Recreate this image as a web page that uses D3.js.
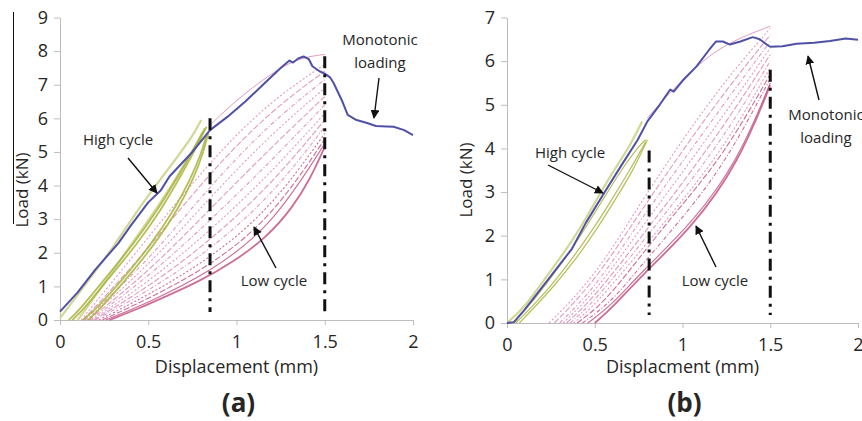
<!DOCTYPE html>
<html>
<head>
<meta charset="utf-8">
<script src="https://cdn.jsdelivr.net/npm/d3@7"></script>
<style>
  body { margin: 0; background: #fff; }
  svg text { font-family: "Open Sans", sans-serif; fill: #262626; }
</style>
</head>
<body>
<div id="chart"></div>
<script>
// ---- data ----
var xTicks   = [ 0, 0.5, 1, 1.5, 2 ];
var yTicksA  = [ 0, 1, 2, 3, 4, 5, 6, 7, 8, 9 ];
var yTicksB  = [ 0, 1, 2, 3, 4, 5, 6, 7 ];

// (a) monotonic loading curve [displacement mm, load kN]
var monoA = [
    [0,0.25],[0.1,0.82],[0.2,1.5],[0.33,2.28],[0.4,2.8],[0.5,3.5],[0.57,3.85],[0.62,4.27],
    [0.75,5.0],[0.85,5.65],[0.95,6.05],[1.05,6.5],[1.15,7.0],[1.25,7.5],[1.3,7.72],[1.32,7.66],
    [1.35,7.78],[1.38,7.84],[1.41,7.76],[1.43,7.55],[1.47,7.4],[1.5,7.33],[1.53,7.22],[1.55,7.05],
    [1.6,6.5],[1.63,6.1],[1.68,5.95],[1.74,5.86],[1.79,5.77],[1.85,5.76],[1.89,5.75],[1.95,5.65],[2.0,5.5]
];
// (a) high cycle loops
var highA_light = [
    [ [0.0,0.05],[0.1,0.75],[0.2,1.45],[0.3,2.15],[0.43,3.2],[0.55,4.05],[0.65,4.75],[0.75,5.45],[0.8,5.95] ],
    [ [0.1,0],[0.2,0.7],[0.35,1.85],[0.5,2.95],[0.62,3.9],[0.72,4.75],[0.81,5.6] ]
];
var highA = [
    [ [0.05,0],[0.11,0.3],[0.25,1.2],[0.42,2.28],[0.55,3.25],[0.66,4.2],[0.75,5.0],[0.82,5.7] ],
    [ [0.07,0],[0.13,0.3],[0.27,1.2],[0.44,2.28],[0.57,3.25],[0.68,4.25],[0.76,5.0],[0.83,5.75] ],
    [ [0.13,0],[0.21,0.35],[0.37,1.3],[0.52,2.28],[0.65,3.3],[0.74,4.2],[0.8,4.95],[0.83,5.5] ],
    [ [0.16,0],[0.23,0.35],[0.39,1.3],[0.54,2.28],[0.67,3.3],[0.76,4.25],[0.81,4.95],[0.84,5.55] ]
];
// (a) low cycle loops
var lowA_env = [ [0.85,5.8],[1.0,6.55],[1.2,7.35],[1.35,7.8],[1.5,7.9] ];
var lowA = [
    [ [0.12,0],[0.4,1.8],[0.85,4.75],[1.2,6.55],[1.5,7.6] ],
    [ [0.13,0],[0.45,1.8],[0.85,4.4],[1.2,6.25],[1.5,7.4] ],
    [ [0.14,0],[0.5,1.75],[0.85,4.0],[1.2,5.9],[1.5,7.15] ],
    [ [0.15,0],[0.5,1.6],[0.85,3.65],[1.2,5.55],[1.5,6.9] ],
    [ [0.16,0],[0.5,1.42],[0.85,3.3],[1.2,5.15],[1.5,6.65] ],
    [ [0.17,0],[0.5,1.28],[0.85,2.95],[1.2,4.75],[1.5,6.4] ],
    [ [0.18,0],[0.5,1.12],[0.85,2.65],[1.2,4.4],[1.5,6.15] ],
    [ [0.19,0],[0.5,0.98],[0.85,2.35],[1.2,4.05],[1.5,5.95] ],
    [ [0.2,0],[0.5,0.86],[0.85,2.08],[1.2,3.7],[1.5,5.75] ],
    [ [0.22,0],[0.5,0.74],[0.85,1.82],[1.2,3.35],[1.5,5.55] ],
    [ [0.24,0],[0.5,0.63],[0.85,1.6],[1.2,3.05],[1.5,5.38] ],
    [ [0.26,0],[0.5,0.52],[0.85,1.42],[1.2,2.78],[1.5,5.25] ],
    [ [0.28,0],[0.45,0.35],[0.6,0.7],[0.79,1.15],[0.98,1.72],[1.17,2.45],[1.32,3.36],[1.42,4.22],[1.5,5.15] ]
];

// (b) monotonic loading curve
var monoB = [
    [0,0],[0.04,0.02],[0.1,0.3],[0.235,1.0],[0.37,1.7],[0.45,2.3],[0.557,3.0],[0.65,3.6],[0.745,4.2],
    [0.8,4.62],[0.87,5.0],[0.93,5.35],[0.95,5.3],[1.0,5.55],[1.08,5.88],[1.15,6.25],[1.19,6.45],
    [1.23,6.45],[1.27,6.38],[1.33,6.45],[1.4,6.55],[1.44,6.5],[1.48,6.38],[1.5,6.33],[1.57,6.34],
    [1.65,6.4],[1.75,6.42],[1.84,6.46],[1.93,6.52],[2.0,6.49]
];
var highB_light = [
    [ [0,0],[0.1,0.35],[0.23,1.1],[0.37,1.85],[0.5,2.75],[0.6,3.45],[0.7,4.05],[0.77,4.62] ]
];
var highB = [
    [ [0.03,0],[0.15,0.5],[0.3,1.3],[0.42,2.0],[0.55,2.85],[0.65,3.5],[0.75,4.05],[0.79,4.2] ],
    [ [0.05,0],[0.2,0.6],[0.35,1.35],[0.5,2.2],[0.6,2.85],[0.7,3.5],[0.79,4.15] ],
    [ [0.07,0],[0.25,0.75],[0.4,1.5],[0.52,2.2],[0.62,2.85],[0.72,3.5],[0.8,4.2] ]
];
var lowB_env = [ [0.8,4.7],[1.0,5.6],[1.2,6.3],[1.4,6.65],[1.5,6.8] ];
var lowB = [
    [ [0.24,0],[0.5,1.05],[0.76,2.75],[1.0,4.2],[1.25,5.6],[1.5,6.75] ],
    [ [0.27,0],[0.5,0.95],[0.76,2.55],[1.0,3.95],[1.25,5.35],[1.5,6.6] ],
    [ [0.3,0],[0.5,0.8],[0.76,2.35],[1.0,3.7],[1.25,5.1],[1.5,6.45] ],
    [ [0.32,0],[0.5,0.7],[0.76,2.15],[1.0,3.45],[1.25,4.85],[1.5,6.3] ],
    [ [0.34,0],[0.5,0.6],[0.76,1.95],[1.0,3.2],[1.25,4.6],[1.5,6.15] ],
    [ [0.36,0],[0.5,0.5],[0.76,1.8],[1.0,3.0],[1.25,4.35],[1.5,6.0] ],
    [ [0.38,0],[0.5,0.4],[0.76,1.65],[1.0,2.8],[1.25,4.1],[1.5,5.85] ],
    [ [0.4,0],[0.55,0.45],[0.76,1.52],[0.94,2.44],[1.23,3.81],[1.5,5.7] ],
    [ [0.43,0],[0.6,0.5],[0.76,1.3],[1.0,2.4],[1.25,3.7],[1.5,5.6] ],
    [ [0.46,0],[0.6,0.42],[0.76,1.15],[1.06,2.3],[1.32,3.75],[1.5,5.5] ],
    [ [0.5,0],[0.6,0.35],[0.76,1.06],[1.06,2.21],[1.32,3.67],[1.5,5.45] ]
];
// vertical dash-dot limits [displacement, top load]
var limitsA = [ [0.85, 6.0], [1.5, 7.85] ];
var limitsB = [ [0.81, 3.95], [1.5, 5.8] ];

// ---- svg ----
var width  = 862;
var height = 421;
var svg = d3.select( '#chart' )
    .append( 'svg' )
    .attr( 'width', width )
    .attr( 'height', height );

var defs = svg.append( 'defs' );
defs.append( 'marker' )
    .attr( 'id', 'arrow' )
    .attr( 'viewBox', '0 0 10 10' )
    .attr( 'refX', 9 ).attr( 'refY', 5 )
    .attr( 'markerWidth', 9 ).attr( 'markerHeight', 9 )
    .attr( 'markerUnits', 'userSpaceOnUse' )
    .attr( 'orient', 'auto' )
    .append( 'path' )
    .attr( 'd', 'M0,0 L10,5 L0,10 Z' )
    .attr( 'fill', '#111' );

var pink     = '#e39ac0';
var pinkDark = '#c04a7e';
var olive    = '#a8b33c';
var oliveLt  = '#d2d894';
var blue     = '#4f51a6';

function drawPanel( p ) {
    var g = svg.append( 'g' );
    var x = d3.scaleLinear().domain( [0, 2] ).range( p.xRange );
    var y = d3.scaleLinear().domain( [0, p.yMax] ).range( p.yRange );

    var line = d3.line()
        .x( function( d ) { return x( d[0] ); } )
        .y( function( d ) { return y( d[1] ); } )
        .curve( d3.curveBasis );
    var jagged = d3.line()
        .x( function( d ) { return x( d[0] ); } )
        .y( function( d ) { return y( d[1] ); } );

    // axes
    var axisX = d3.axisBottom( x ).tickValues( xTicks ).tickSize( 5 ).tickSizeOuter( 0 )
        .tickFormat( function( d ) { return String( d ); } );
    var axisY = d3.axisLeft( y ).tickValues( p.yTicks ).tickSize( 6 ).tickSizeOuter( 0 )
        .tickFormat( function( d ) { return String( d ); } );
    var gx = g.append( 'g' )
        .attr( 'transform', 'translate(0,' + p.yRange[0] + ')' )
        .call( axisX );
    var gy = g.append( 'g' )
        .attr( 'transform', 'translate(' + p.xRange[0] + ',0)' )
        .call( axisY );
    [gx, gy].forEach( function( a ) {
        a.selectAll( 'path, line' ).attr( 'stroke', '#bdbdbd' );
        a.selectAll( 'text' ).attr( 'font-size', 18 ).attr( 'fill', '#262626' )
            .attr( 'font-family', '"Open Sans", sans-serif' );
    } );
    gx.selectAll( 'text' ).attr( 'dy', '1.1em' );
    gy.selectAll( 'text' ).attr( 'x', -12 );

    // low cycle (pink)
    g.append( 'path' ).datum( p.lowEnv )
        .attr( 'd', line ).attr( 'fill', 'none' )
        .attr( 'stroke', pink ).attr( 'stroke-width', 1 );
    g.selectAll( 'path.low' ).data( p.low ).enter()
        .append( 'path' )
        .attr( 'class', 'low' )
        .attr( 'd', line )
        .attr( 'fill', 'none' )
        .attr( 'stroke', function( d, i ) { return i >= p.low.length - 4 ? pinkDark : pink; } )
        .attr( 'stroke-opacity', function( d, i ) { return i >= p.low.length - 4 ? 0.8 : 1; } )
        .attr( 'stroke-width', function( d, i ) { return i === p.low.length - 1 ? 1.8 : 1.1; } )
        .attr( 'stroke-dasharray', function( d, i ) {
            if ( i >= p.low.length - 2 ) return null;
            return i % 3 === 0 ? '2,2' : ( i % 3 === 1 ? '6,2' : '4,2,1,2' );
        } );

    // high cycle (green)
    g.selectAll( 'path.highlt' ).data( p.highLight ).enter()
        .append( 'path' )
        .attr( 'class', 'highlt' )
        .attr( 'd', line ).attr( 'fill', 'none' )
        .attr( 'stroke', oliveLt ).attr( 'stroke-width', 2.2 );
    g.selectAll( 'path.high' ).data( p.high ).enter()
        .append( 'path' )
        .attr( 'class', 'high' )
        .attr( 'd', line )
        .attr( 'fill', 'none' )
        .attr( 'stroke', olive )
        .attr( 'stroke-opacity', 0.85 )
        .attr( 'stroke-width', p.highWidth );

    // monotonic (blue)
    g.append( 'path' ).datum( p.mono )
        .attr( 'd', jagged ).attr( 'fill', 'none' )
        .attr( 'stroke', blue ).attr( 'stroke-width', 2 )
        .attr( 'stroke-linejoin', 'round' );

    // dash-dot limits
    g.selectAll( 'line.limit' ).data( p.limits ).enter()
        .append( 'line' )
        .attr( 'class', 'limit' )
        .attr( 'x1', function( d ) { return x( d[0] ); } )
        .attr( 'x2', function( d ) { return x( d[0] ); } )
        .attr( 'y1', function( d ) { return y( d[1] ); } )
        .attr( 'y2', y( 0 ) - 8 )
        .attr( 'stroke', '#111' )
        .attr( 'stroke-width', 3 )
        .attr( 'stroke-dasharray', '12,6,3,6' );

    // titles
    g.append( 'text' )
        .attr( 'x', ( p.xRange[0] + p.xRange[1] ) / 2 )
        .attr( 'y', 373 )
        .attr( 'text-anchor', 'middle' )
        .attr( 'font-size', 18 )
        .text( p.xTitle );
    g.append( 'text' )
        .attr( 'transform', 'translate(' + p.yTitleX + ',' + p.yTitleY + ') rotate(-90)' )
        .attr( 'text-anchor', 'middle' )
        .attr( 'font-size', 17 )
        .text( 'Load (kN)' );
    g.append( 'text' )
        .attr( 'x', ( p.xRange[0] + p.xRange[1] ) / 2 + 2 )
        .attr( 'y', 412 )
        .attr( 'text-anchor', 'middle' )
        .attr( 'font-size', 26 )
        .attr( 'font-weight', 'bold' )
        .attr( 'fill', '#111' )
        .text( p.label );

    // annotations
    p.notes.forEach( function( n ) {
        var t = g.append( 'text' )
            .attr( 'text-anchor', 'middle' )
            .attr( 'font-size', 15 )
            .attr( 'fill', '#222' );
        n.lines.forEach( function( s, k ) {
            t.append( 'tspan' ).attr( 'x', n.tx ).attr( 'y', n.ty + k * 23 ).text( s );
        } );
        g.append( 'line' )
            .attr( 'x1', n.a[0] ).attr( 'y1', n.a[1] )
            .attr( 'x2', n.a[2] ).attr( 'y2', n.a[3] )
            .attr( 'stroke', '#111' ).attr( 'stroke-width', 1.4 )
            .attr( 'marker-end', 'url(#arrow)' );
    } );
}

drawPanel( {
    xRange: [60, 413], yRange: [320, 17.5], yMax: 9, yTicks: yTicksA,
    mono: monoA, highLight: highA_light, high: highA, highWidth: 1.8,
    lowEnv: lowA_env, low: lowA, limits: limitsA,
    xTitle: 'Displacement (mm)', yTitleX: 28, yTitleY: 190, label: '(a)',
    notes: [
        { lines: ['Monotonic', 'loading'], tx: 380, ty: 45, a: [379, 78, 374, 118] },
        { lines: ['High cycle'], tx: 118, ty: 145, a: [128, 158, 157, 193] },
        { lines: ['Low cycle'], tx: 274, ty: 286, a: [276, 268, 254, 227] }
    ]
} );

drawPanel( {
    xRange: [507, 858], yRange: [323, 17.5], yMax: 7, yTicks: yTicksB,
    mono: monoB, highLight: highB_light, high: highB, highWidth: 1.2,
    lowEnv: lowB_env, low: lowB, limits: limitsB,
    xTitle: 'Displacment (mm)', yTitleX: 472, yTitleY: 180, label: '(b)',
    notes: [
        { lines: ['Monotonic', 'loading'], tx: 826, ty: 120, a: [819, 100, 808, 56] },
        { lines: ['High cycle'], tx: 570, ty: 158, a: [548, 165, 603, 193] },
        { lines: ['Low cycle'], tx: 715, ty: 286, a: [716, 267, 696, 226] }
    ]
} );

// thin stray rule over the left axis title, as in the scanned figure
svg.append( 'line' )
    .attr( 'x1', 13.5 ).attr( 'x2', 13.5 )
    .attr( 'y1', 12 ).attr( 'y2', 224 )
    .attr( 'stroke', '#111' ).attr( 'stroke-width', 1 );
</script>
</body>
</html>
